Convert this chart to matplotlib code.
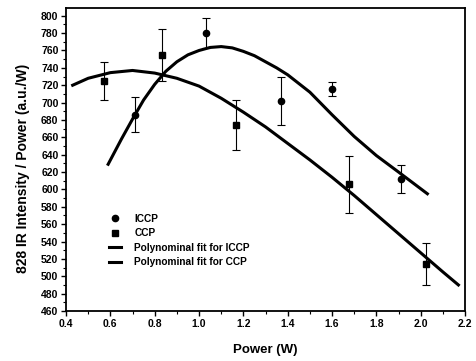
import matplotlib
matplotlib.use("Agg")
import matplotlib.pyplot as plt
from matplotlib.ticker import MultipleLocator
from matplotlib.lines import Line2D

plt.rcParams['font.family'] = ['Liberation Sans', 'DejaVu Sans']
plt.rcParams['font.weight'] = 'bold'

# measured points
iccp_x = [0.71, 1.03, 1.37, 1.60, 1.91]
iccp_y = [686, 780, 702, 716, 612]
iccp_err = [20, 17, 28, 8, 16]

ccp_x = [0.57, 0.835, 1.165, 1.675, 2.025]
ccp_y = [725, 755, 674, 606, 514]
ccp_err = [22, 30, 29, 33, 24]

# fit curves
fit_iccp_x = [0.59, 0.65, 0.7, 0.75, 0.8, 0.85, 0.9, 0.95, 1.0, 1.05, 1.1, 1.15, 1.2, 1.25,
              1.3, 1.35, 1.4, 1.45, 1.5, 1.6, 1.7, 1.8, 1.9, 2.03]
fit_iccp_y = [629, 658, 681, 703, 721, 736, 747, 755, 760, 763.5, 764.5, 763, 759, 754,
              747, 740, 732, 722, 712, 686, 661, 639, 620, 595]

fit_ccp_x = [0.43, 0.5, 0.6, 0.7, 0.8, 0.9, 1.0, 1.1, 1.2, 1.3, 1.4, 1.5, 1.6, 1.7, 1.8,
             1.9, 2.0, 2.1, 2.17]
fit_ccp_y = [720, 728, 734.5, 737, 734, 728, 719, 705, 689, 672, 653, 634, 614, 593, 571,
             549, 527, 505, 490]

fig = plt.figure(figsize=(4.76, 3.61), dpi=100)
ax = fig.add_axes([0.1387, 0.1385, 0.8383, 0.8395])

ax.errorbar(iccp_x, iccp_y, yerr=iccp_err, fmt='o', color='black', ms=4.5,
            elinewidth=0.8, capsize=2.8, capthick=0.8)
ax.errorbar(ccp_x, ccp_y, yerr=ccp_err, fmt='s', color='black', ms=4.5,
            elinewidth=0.8, capsize=2.8, capthick=0.8)
ax.plot(fit_iccp_x, fit_iccp_y, color='black', lw=2.2)
ax.plot(fit_ccp_x, fit_ccp_y, color='black', lw=2.2)

ax.set_xlim(0.4, 2.2)
ax.set_ylim(460, 809)
ax.xaxis.set_major_locator(MultipleLocator(0.2))
ax.xaxis.set_minor_locator(MultipleLocator(0.1))
ax.yaxis.set_major_locator(MultipleLocator(20))
ax.yaxis.set_minor_locator(MultipleLocator(10))
ax.tick_params(which='major', direction='out', length=3.5, width=1, labelsize=7.5, pad=2)
ax.tick_params(which='minor', direction='out', length=2, width=0.8)
for lab in ax.get_xticklabels() + ax.get_yticklabels():
    lab.set_fontweight('bold')
for s in ax.spines.values():
    s.set_linewidth(1.3)

ax.set_xlabel('Power (W)', fontsize=9.5, fontweight='bold', labelpad=11)
ax.set_ylabel('828 IR Intensity / Power (a.u./W)', fontsize=10, fontweight='bold')
ax.yaxis.set_label_coords(-0.09, 0.47)

handles = [
    Line2D([], [], ls='none', marker='o', color='black', ms=4.5),
    Line2D([], [], ls='none', marker='s', color='black', ms=4.5),
    Line2D([], [], color='black', lw=2.2),
    Line2D([], [], color='black', lw=2.2),
]
labels = ['ICCP', 'CCP', 'Polynominal fit for ICCP', 'Polynominal fit for CCP']
ax.legend(handles, labels, loc='center left', bbox_to_anchor=(0.095, 0.233), frameon=False,
          handlelength=1.2, handletextpad=1.3, labelspacing=0.45,
          borderpad=0, prop={'weight': 'bold', 'size': 7.3})

fig.savefig('out.png', dpi=100)
